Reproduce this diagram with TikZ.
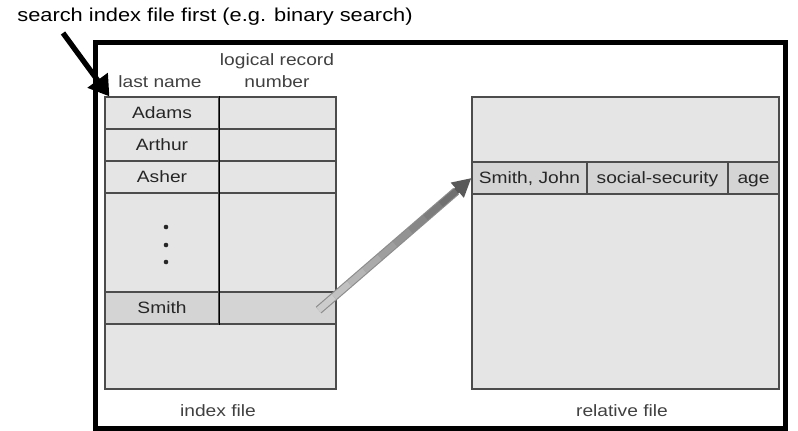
\documentclass[tikz,border=0pt]{standalone}
\usepackage{fontspec}
\setmainfont{Liberation Sans}[FakeStretch=1.17]
\usetikzlibrary{positioning}
\usetikzlibrary{calc}
\usetikzlibrary{arrows.meta}

\newcommand\px{0.75pt}

\tikzset{
  cell/.style={draw=black!70, fill=black!10, line width=0.9pt, inner sep=0pt,
    text=black!85, text height=10pt, text depth=1.5pt, font=\fontsize{12.3}{14}\selectfont},
  hit/.style={cell, fill=black!17},
  caption/.style={text=black!75, inner sep=0pt, font=\fontsize{12.3}{16.5}\selectfont},
}

\begin{document}
\begin{tikzpicture}[x=\px, y=-\px]
  \useasboundingbox (0,0) rectangle (798,430);

  % outer frame and title
  \node[draw, line width=3.75pt, inner sep=0pt, minimum width=690*\px, minimum height=386*\px] (frame) at (440,235) {};
  \node[inner sep=0pt, font=\fontsize{14}{16}\selectfont] (title) at (215,17) {search index file first (e.g. binary search)};

  % index file
  \node[cell, minimum width=231*\px, minimum height=292*\px] (index) at (220.5,243) {};
  \foreach \name/\y [count=\n] in {Adams/113, Arthur/145, Asher/177} {
    \node[cell, minimum width=114*\px, minimum height=32*\px] (key\n) at (162,\y) {\name};
    \node[cell, minimum width=117*\px, minimum height=32*\px] (rec\n) at (277.5,\y) {};
  }
  \node[cell, minimum width=114*\px, minimum height=99*\px] (keydots) at (162,242.5) {};
  \node[cell, minimum width=117*\px, minimum height=99*\px] (recdots) at (277.5,242.5) {};
  \foreach \y in {227,245,262} {
    \fill[black!85] (166,\y) circle (2.3);
  }
  \node[hit, minimum width=114*\px, minimum height=32*\px] (keysmith) at (162,308) {Smith};
  \node[hit, minimum width=117*\px, minimum height=32*\px] (recsmith) at (277.5,308) {};
  \draw[line width=0.9pt] (key1.north east) -- (keysmith.south east);

  % column heads and captions
  \node[caption] (namehead) at (160,82) {last name};
  \node[caption, align=center] (rechead) at (277,71) {logical record\\number};
  \node[caption] (indexlabel) at (218,411) {index file};
  \node[caption] (relativelabel) at (622,411) {relative file};

  % relative file
  \node[cell, minimum width=307*\px, minimum height=292*\px] (relative) at (625.5,243) {};
  \node[hit, minimum width=115*\px, minimum height=32*\px] (name) at (529.5,178) {Smith, John};
  \node[hit, minimum width=141*\px, minimum height=32*\px] (ssn) at (657.5,178) {social-security};
  \node[hit, minimum width=51*\px, minimum height=32*\px] (age) at (753.5,178) {age};

  % search hint
  \coordinate (hint) at (63,33);
  \draw[line width=4pt, -{Triangle[length=15pt, width=18pt]}] (hint) -- ([shift={(5,0)}]index.north west);

  % pointer into the relative file
  \coordinate (from) at ([shift={(-18,2)}]recsmith.east);
  \draw[line width=6.5pt, black!45] (from) -- ($(from)!0.9!(name.west)$);
  \foreach \i in {0,...,8} {
    \pgfmathsetmacro\tone{20+4.5*\i}
    \draw[line width=4.8pt, black!\tone] ($(from)!\i/10!(name.west)$) -- ($(from)!\i/10+1/10!(name.west)$);
  }
  \draw[line width=4.8pt, black!65, -{Triangle[length=14pt, width=14pt]}] ($(from)!0.9!(name.west)$) -- (name.west);
\end{tikzpicture}
\end{document}
